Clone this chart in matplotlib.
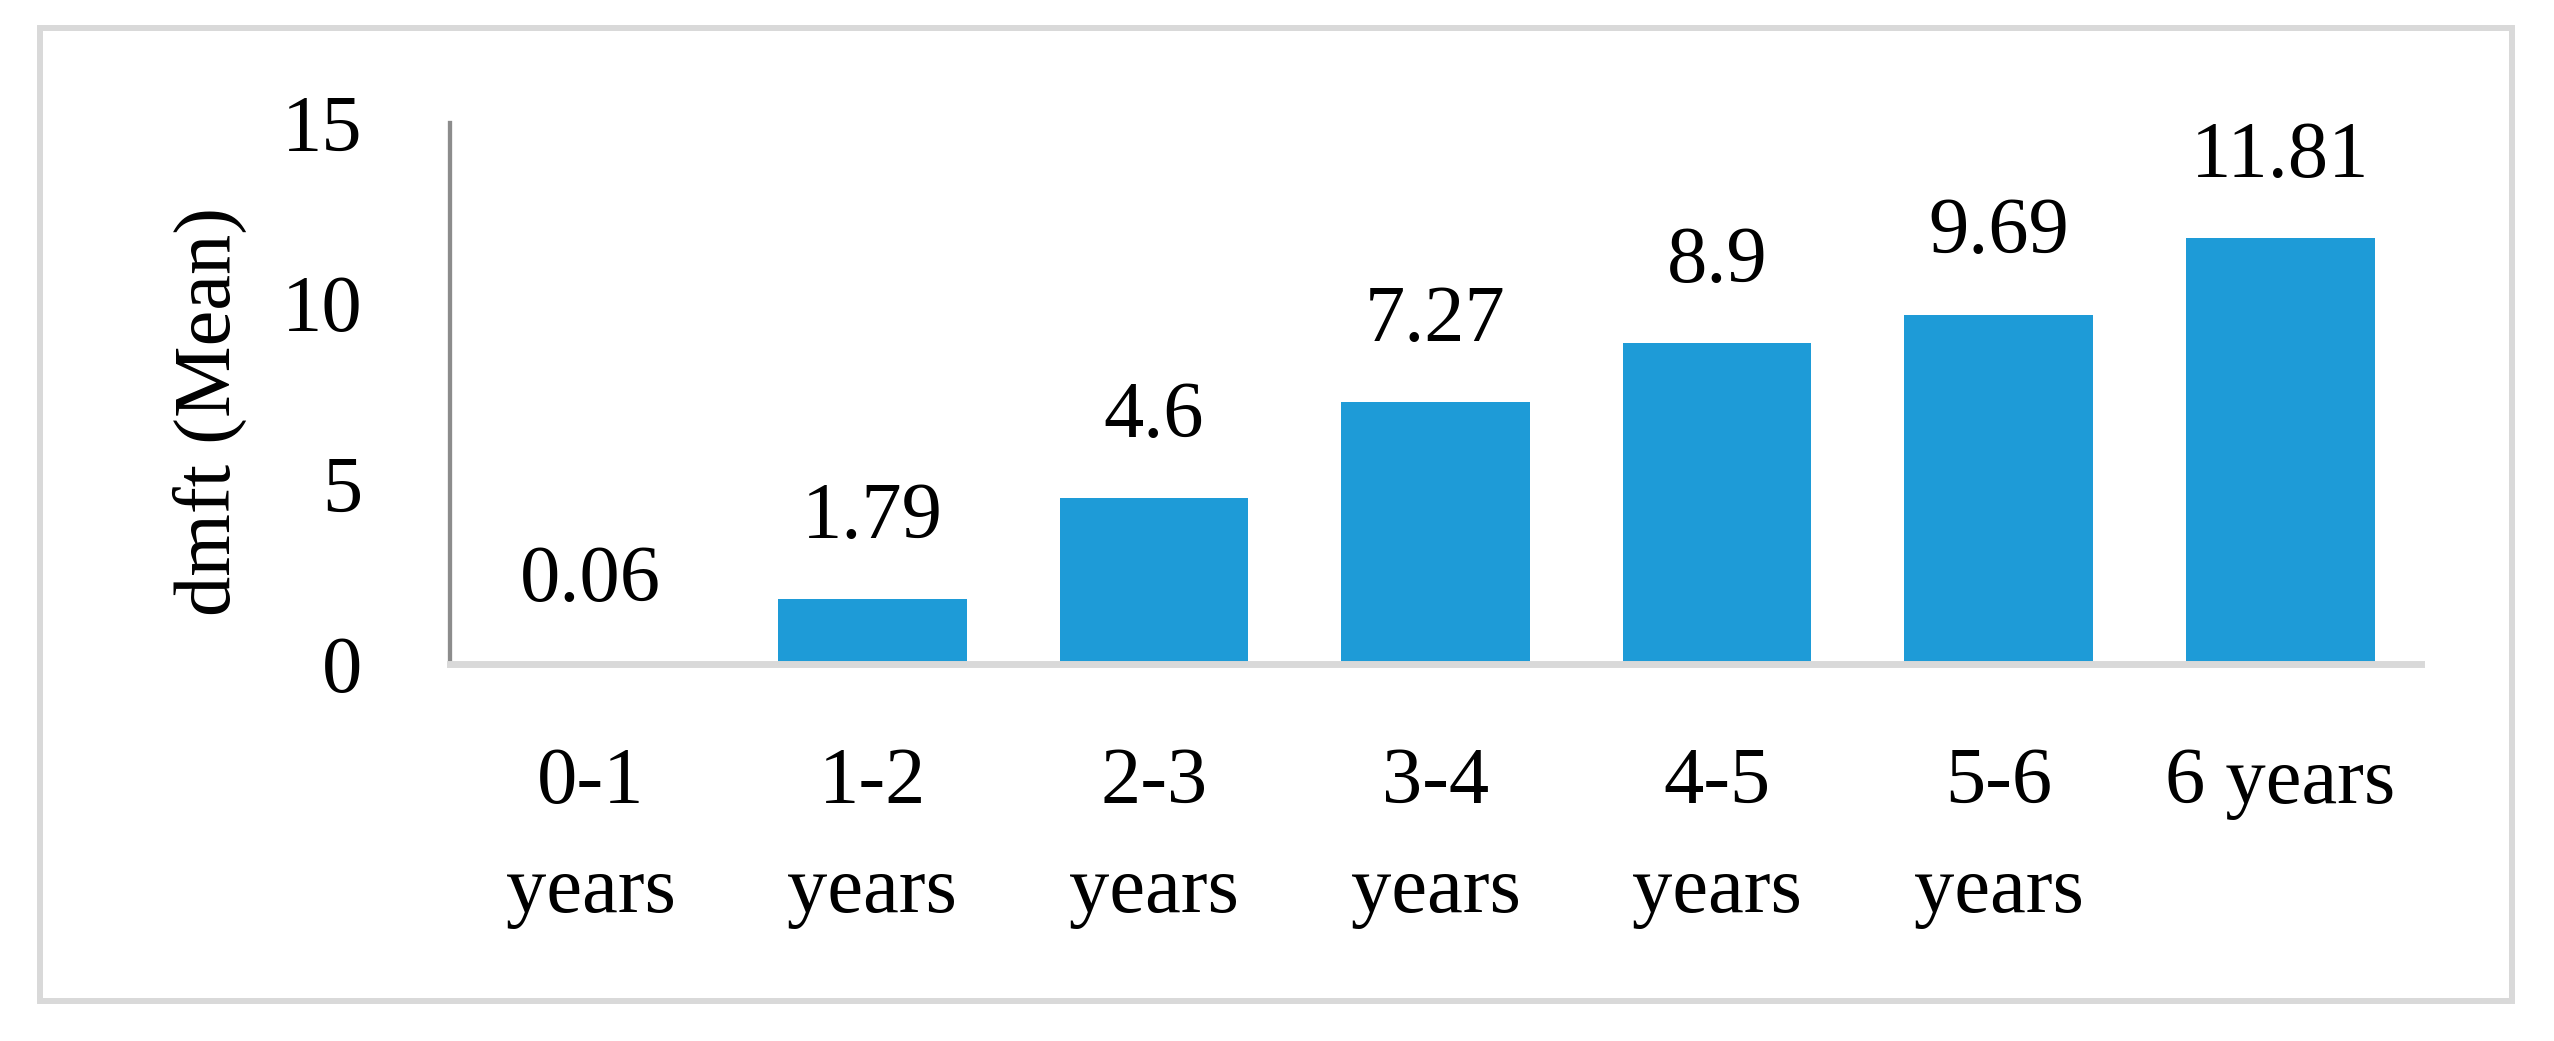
import matplotlib
matplotlib.use('Agg')
import matplotlib.pyplot as plt
from matplotlib.patches import Rectangle

# ---------------------------------------------------------------------------
CATEGORIES = ['0-1\nyears', '1-2\nyears', '2-3\nyears', '3-4\nyears',
              '4-5\nyears', '5-6\nyears', '6 years']
DMFT_MEAN  = [0.06, 1.79, 4.6, 7.27, 8.9, 9.69, 11.81]
VALUE_TEXT = ['0.06', '1.79', '4.6', '7.27', '8.9', '9.69', '11.81']
Y_TICKS    = [0, 5, 10, 15]

BAR_COLOR  = '#1E9BD7'
FONT       = 'Liberation Serif'
FS         = 58
W, H, DPI  = 2554, 1041, 100
# ---------------------------------------------------------------------------

plt.rcParams['font.family'] = FONT

fig = plt.figure(figsize=(W / DPI, H / DPI), dpi=DPI)

# outer light-grey frame
fig.patches.append(Rectangle((40 / W, 1 - 1001 / H), 2472 / W, 973 / H,
                             transform=fig.transFigure, fill=False,
                             edgecolor='#d9d9d9', linewidth=4.3))

ax = fig.add_axes([450 / W, 1 - 664 / H, 1971 / W, 541 / H])

x = range(len(CATEGORIES))
ax.bar(x, DMFT_MEAN, width=0.67, color=BAR_COLOR, zorder=2)

for xi, v, txt in zip(x, DMFT_MEAN, VALUE_TEXT):
    ax.annotate(txt, (xi, v), xytext=(0, 44), textcoords='offset points',
                ha='center', va='baseline', fontsize=FS)

ax.set_xlim(-0.5, len(CATEGORIES) - 0.5)
ax.set_ylim(0, 15)
ax.set_yticks(Y_TICKS)
ax.set_yticklabels([str(t) for t in Y_TICKS], fontsize=FS)
ax.set_xticks(list(x))
ax.set_xticklabels(CATEGORIES, fontsize=FS, linespacing=1.63)
ax.tick_params(axis='y', length=0, pad=63)
ax.tick_params(axis='x', length=0, pad=60)

for side in ('top', 'right'):
    ax.spines[side].set_visible(False)
ax.spines['left'].set_color('#8c8c8c')
ax.spines['left'].set_linewidth(3.1)
ax.spines['bottom'].set_color('#d9d9d9')
ax.spines['bottom'].set_linewidth(5)
ax.spines['bottom'].set_zorder(3)

fig.text(210 / W, 1 - 411 / H, 'dmft (Mean)', rotation=90,
         ha='center', va='center', fontsize=FS)

fig.savefig('out.png', dpi=DPI, facecolor='white')
